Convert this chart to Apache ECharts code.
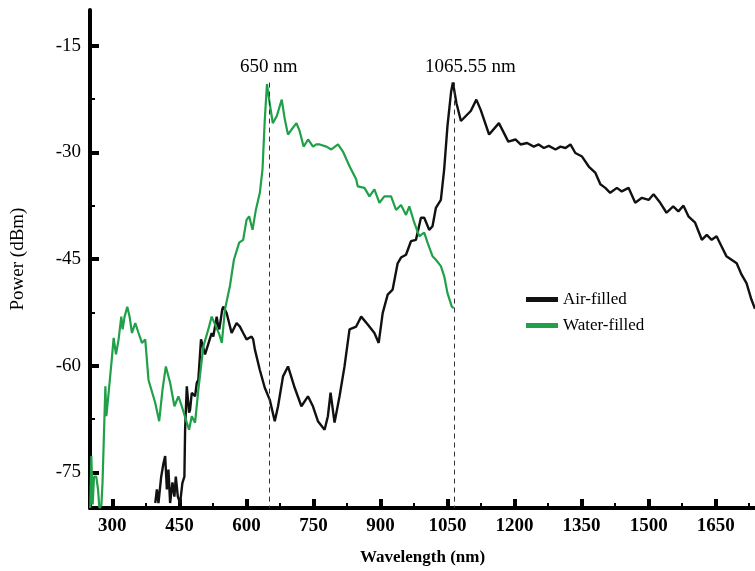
<!DOCTYPE html>
<html>
<head>
<meta charset="utf-8">
<script src="https://cdn.jsdelivr.net/npm/echarts@6/dist/echarts.min.js"></script>
<style>
  html, body { margin: 0; padding: 0; background: #fff; }
  #chart { width: 755px; height: 571px; }
</style>
</head>
<body>
<div id="chart"></div>
<script>
"use strict";

// spectra: [wavelength nm, power dBm]
const airFilled = [
  [396, -79.3], [399.7, -77.4], [403.2, -79.3], [409.3, -75.6], [414.4, -73.7], [418.2, -72.7],
  [422, -77.4], [425.5, -74.6], [429.3, -79.3], [434.5, -76.4], [438.9, -78.4], [442, -75.6],
  [446.5, -78.4], [451.6, -79.3], [456.7, -76.5], [461.2, -75.6], [462.8, -69], [466.6, -62.9],
  [471.7, -66.6], [473.9, -66.2], [477.7, -63.8], [485.1, -64.3], [488.9, -62.4], [492.4, -62],
  [498.4, -56.3], [507.4, -58.4], [516.3, -56.6], [522.3, -55.4], [525.9, -55.9], [533.5, -53.1],
  [537, -54.5], [539.3, -54.9], [545.9, -52.1], [548.2, -51.7], [555.7, -52.6], [566.9, -55.4],
  [578, -54], [585.4, -54.5], [592.8, -55.4], [600.3, -56.3], [611.5, -55.9], [615.1, -56.3],
  [618.9, -57.7], [630, -60.6], [641.1, -63.1], [652.3, -64.8], [663.4, -67.8], [670.8, -65.7],
  [681.9, -61.5], [693.1, -60.1], [708, -63.1], [723, -65.7], [737.7, -64.3], [748.8, -65.7],
  [760, -67.8], [774.9, -69], [782.3, -67.1], [788.3, -63.8], [797.2, -68], [808.4, -64.3],
  [819.5, -60.1], [830.7, -54.9], [845.6, -54.5], [856.8, -53.1], [871.5, -54.2], [886.4, -55.4],
  [896, -56.8], [904.9, -52.6], [916.1, -50], [927.2, -49.3], [938.4, -45.6], [945.9, -44.8],
  [957.1, -44.4], [968.2, -42.5], [979.4, -42.3], [990.5, -39.2], [997.9, -39.2], [1009, -40.9],
  [1016.4, -40.4], [1024, -37.8], [1035.1, -36.7], [1042.5, -32.4], [1049.9, -26.3], [1058, -21.5],
  [1062, -20.2], [1065.55, -20.2], [1070, -23.1], [1080, -25.6], [1091, -24.9], [1102, -24.2],
  [1114.5, -22.6], [1124, -24], [1143, -27.5], [1165, -25.9], [1186, -28.5], [1202, -28.2],
  [1213.5, -28.9], [1228, -28.7], [1243, -29.2], [1254, -28.9], [1265.5, -29.4], [1276.6, -29.1],
  [1291.6, -29.6], [1302.7, -29.2], [1314, -29.4], [1325, -28.9], [1336, -30.1], [1351, -30.6],
  [1366, -32], [1381, -32.9], [1392, -34.5], [1403, -35], [1414, -35.7], [1429, -35],
  [1440, -35.5], [1455, -35], [1470, -37.1], [1485, -36.4], [1500, -36.7], [1511, -35.9],
  [1526, -37.1], [1540, -38.5], [1555, -37.6], [1566.5, -38.3], [1578, -37.5], [1589, -39],
  [1604, -39.9], [1619, -42.3], [1630, -41.6], [1641, -42.3], [1652, -41.8], [1663, -43.2],
  [1674, -44.6], [1685.5, -45.1], [1697, -45.6], [1708, -47.2], [1719, -48.4], [1730, -50.7],
  [1738, -52]
];
const waterFilled = [
  [250.5, -80], [253, -72.7], [256, -79.5], [259, -75.6], [264, -75.6], [268, -77.4],
  [271, -80], [275.5, -79.6], [278, -76.5], [280.6, -76.4], [284.4, -62.9], [286.6, -67.1],
  [291.7, -63.8], [299.3, -58.7], [302.9, -56.1], [308.2, -58.4], [314, -56.3], [320, -53.1],
  [323, -54.9], [327.4, -53.1], [333.4, -51.7], [338.6, -53.1], [343.9, -55.4], [351.3, -54],
  [358.6, -55.4], [366.2, -56.8], [373.6, -56.3], [380.9, -62], [395.9, -65.2], [404.8, -67.8],
  [412.2, -63.4], [419.7, -60.1], [429.3, -62.4], [438.9, -65.7], [447.8, -64.3], [455.4, -65.7],
  [466.6, -68], [471.7, -69], [477.7, -67.1], [485.1, -68], [492.4, -63.4], [503.6, -57.3],
  [514.7, -54.9], [522.3, -53.1], [531.9, -54.5], [539.3, -55.6], [545, -56.8], [552, -52.1],
  [563.1, -48.8], [572, -45.1], [583.8, -42.7], [592.8, -42.3], [600.3, -39.5], [606.1, -39],
  [613.7, -40.9], [621.1, -38.1], [630, -35.7], [636, -32.4], [641.1, -25.4], [646, -20.4],
  [650, -20.2], [653, -23.5], [659, -25.9], [668, -24.9], [679, -22.6], [686, -25.4],
  [693, -27.5], [701, -26.8], [712, -25.9], [719, -27], [728, -29.2], [738, -28.2],
  [749, -29.2], [756, -28.9], [764, -28.9], [779, -29.2], [790, -29.6], [805, -28.9],
  [816, -29.9], [831, -32], [845.6, -33.8], [849.2, -34.8], [864.1, -35], [875.3, -36.2],
  [886.4, -35.2], [897.6, -37.1], [908.7, -36.2], [923.7, -36.2], [934.8, -38.1], [946, -37.4],
  [957.1, -38.8], [964.5, -37.6], [975.6, -39.9], [986.7, -41.8], [997.9, -41.3], [1005.3, -42.7],
  [1016.4, -44.6], [1024, -45.1], [1035.1, -46], [1042.5, -47.4], [1049.9, -49.8], [1059.6, -51.7],
  [1064, -51.9]
];

const seriesNames = ["Air-filled", "Water-filled"];
const seriesColors = ["#111111", "#20a049"];
const peaks = [
  { wl: 650, dbm: -20.2, text: "650 nm", shift: 0 },
  { wl: 1065.55, dbm: -20.2, text: "1065.55 nm", shift: 16 }
];
const xMajor = [300, 450, 600, 750, 900, 1050, 1200, 1350, 1500, 1650];
const xMinor = [375, 525, 675, 825, 975, 1125, 1275, 1425, 1575, 1725];
const yMajor = [-75, -60, -45, -30, -15];
const yMinor = [-67.5, -52.5, -37.5, -22.5];
const X_MIN = 250, X_MAX = 1738, Y_MIN = -80, Y_MAX = -10;

const SERIF = "'Liberation Serif', 'Times New Roman', serif";

const chart = echarts.init(document.getElementById("chart"), null, { renderer: "canvas" });

const peakLine = p => ({
  symbol: "none", silent: true,
  lineStyle: { color: "#333", type: [5, 4], width: 1 },
  label: {
    show: true, position: "start", distance: 6, formatter: p.text, offset: [p.shift, 0],
    color: "#000", fontFamily: SERIF, fontSize: 19
  },
  data: [[{ coord: [p.wl, p.dbm] }, { coord: [p.wl, Y_MIN] }]]
});

const axisBase = (min, max) => ({
  type: "value", min, max,
  splitLine: { show: false }
});

chart.setOption({
  animation: false,
  grid: { left: 90, right: 0, top: 10, bottom: 62 },
  legend: {
    data: seriesNames,
    orient: "vertical", left: 521, top: 286,
    icon: "rect", itemWidth: 32, itemHeight: 5, itemGap: 9,
    textStyle: { fontFamily: SERIF, fontSize: 17, color: "#000" }
  },
  xAxis: [
    Object.assign(axisBase(X_MIN, X_MAX), {
      position: "bottom",
      axisLine: { lineStyle: { color: "#000", width: 4 } },
      axisTick: { inside: true, length: 9, customValues: xMajor, lineStyle: { color: "#000", width: 4 } },
      axisLabel: {
        customValues: xMajor, formatter: v => String(v),
        color: "#000", fontFamily: SERIF, fontWeight: "bold", fontSize: 19, margin: 9
      },
      name: "Wavelength (nm)", nameLocation: "middle", nameGap: 41,
      nameTextStyle: { color: "#000", fontFamily: SERIF, fontWeight: "bold", fontSize: 17 }
    }),
    Object.assign(axisBase(X_MIN, X_MAX), {
      position: "bottom",
      axisLine: { show: false },
      axisTick: { inside: true, length: 5, customValues: xMinor, lineStyle: { color: "#000", width: 2 } },
      axisLabel: { show: false }
    })
  ],
  yAxis: [
    Object.assign(axisBase(Y_MIN, Y_MAX), {
      position: "left",
      axisLine: { show: true, lineStyle: { color: "#000", width: 4 } },
      axisTick: { show: true, inside: true, length: 9, customValues: yMajor, lineStyle: { color: "#000", width: 4 } },
      axisLabel: { customValues: yMajor, color: "#000", fontFamily: SERIF, fontSize: 19, margin: 9 },
      name: "Power (dBm)", nameLocation: "middle", nameGap: 62,
      nameTextStyle: { color: "#000", fontFamily: SERIF, fontSize: 19 }
    }),
    Object.assign(axisBase(Y_MIN, Y_MAX), {
      position: "left",
      axisLine: { show: false },
      axisTick: { show: true, inside: true, length: 5, customValues: yMinor, lineStyle: { color: "#000", width: 2 } },
      axisLabel: { show: false }
    })
  ],
  series: [
    {
      name: seriesNames[0], type: "line", data: airFilled,
      showSymbol: false, clip: true,
      lineStyle: { color: seriesColors[0], width: 2.4 }, itemStyle: { color: seriesColors[0] },
      markLine: peakLine(peaks[1])
    },
    {
      name: seriesNames[1], type: "line", data: waterFilled,
      showSymbol: false, clip: true,
      lineStyle: { color: seriesColors[1], width: 2.2 }, itemStyle: { color: seriesColors[1] },
      markLine: peakLine(peaks[0])
    }
  ]
});
</script>
</body>
</html>
